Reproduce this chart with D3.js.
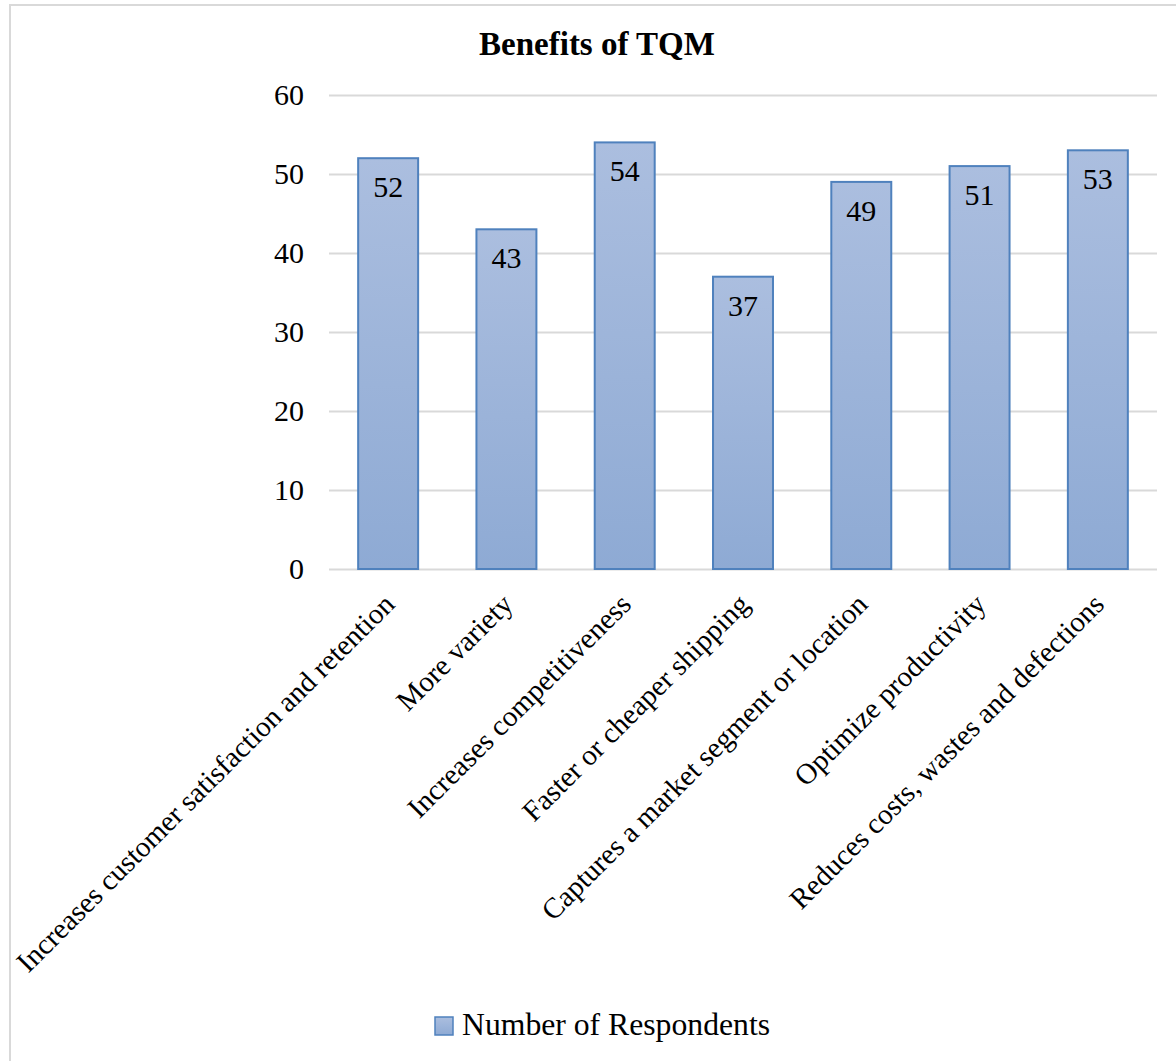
<!DOCTYPE html>
<html>
<head>
<meta charset="utf-8">
<script src="https://cdn.jsdelivr.net/npm/d3@7"></script>
<style>
  body { margin: 0; background: #fff; }
  text { font-family: "Liberation Serif", "Times New Roman", serif; fill: #000; }
</style>
</head>
<body>
<script>
// data
var categories = [
  "Increases customer satisfaction and retention",
  "More variety",
  "Increases competitiveness",
  "Faster or cheaper shipping",
  "Captures a market segment or location",
  "Optimize productivity",
  "Reduces costs, wastes and defections"
];
var respondents = [52, 43, 54, 37, 49, 51, 53];
var yTicks = [0, 10, 20, 30, 40, 50, 60];
var seriesName = "Number of Respondents";
var chartTitle = "Benefits of TQM";

var width = 1176,
    height = 1061;
var plot = { left: 329, right: 1157, top: 95, bottom: 569 };

var gridColor = "#d9d9d9",
    barStroke = "#4f81bd";

var svg = d3.select("body").append("svg")
    .attr("width", width)
    .attr("height", height);

// bar gradient
var grad = svg.append("defs").append("linearGradient")
    .attr("id", "barGrad")
    .attr("x1", 0).attr("y1", 0).attr("x2", 0).attr("y2", 1);
grad.append("stop").attr("offset", "0%").attr("stop-color", "#abbedf");
grad.append("stop").attr("offset", "100%").attr("stop-color", "#8eaad4");

// chart border (only top/left visible)
svg.append("rect")
    .attr("x", 10).attr("y", 5)
    .attr("width", width + 20).attr("height", height + 20)
    .attr("fill", "none")
    .attr("stroke", gridColor)
    .attr("stroke-width", 2);

var x = d3.scaleBand()
    .domain(categories)
    .range([plot.left, plot.right])
    .paddingInner(0.493)
    .paddingOuter(0.2465);

var y = d3.scaleLinear()
    .domain([0, 60])
    .range([plot.bottom, plot.top]);

// gridlines + y labels
var yAxis = d3.axisLeft(y)
    .tickValues(yTicks)
    .tickSize(-(plot.right - plot.left))
    .tickPadding(25);

var gy = svg.append("g")
    .attr("transform", "translate(" + plot.left + ",0)")
    .call(yAxis);
gy.select(".domain").remove();
gy.selectAll(".tick line")
    .attr("stroke", gridColor)
    .attr("stroke-width", 2);
gy.selectAll(".tick text")
    .attr("font-size", 30)
    .attr("font-family", "Liberation Serif, Times New Roman, serif")
    .attr("fill", "#000");

// bars
svg.selectAll("rect.bar")
    .data(respondents)
    .enter()
    .append("rect")
    .attr("class", "bar")
    .attr("x", function(d, i) { return x(categories[i]); })
    .attr("y", function(d) { return y(d); })
    .attr("width", x.bandwidth())
    .attr("height", function(d) { return y(0) - y(d); })
    .attr("fill", "url(#barGrad)")
    .attr("stroke", barStroke)
    .attr("stroke-width", 2);

// value labels inside top
svg.selectAll("text.val")
    .data(respondents)
    .enter()
    .append("text")
    .attr("class", "val")
    .attr("x", function(d, i) { return x(categories[i]) + x.bandwidth() / 2; })
    .attr("y", function(d) { return y(d) + 39; })
    .attr("text-anchor", "middle")
    .attr("font-size", 30)
    .text(function(d) { return d; });

// category labels rotated
svg.selectAll("text.cat")
    .data(categories)
    .enter()
    .append("text")
    .attr("class", "cat")
    .attr("transform", function(d) {
      var cx = x(d) + x.bandwidth() / 2;
      return "translate(" + (cx + 8) + "," + (plot.bottom + 37) + ") rotate(-45)";
    })
    .attr("text-anchor", "end")
    .attr("font-size", 29)
    .text(function(d) { return d; });

// title
svg.append("text")
    .attr("x", 597)
    .attr("y", 55)
    .attr("text-anchor", "middle")
    .attr("font-size", 33)
    .attr("font-weight", "bold")
    .text(chartTitle);

// legend
var legend = svg.append("g").attr("transform", "translate(435,1017)");
legend.append("rect")
    .attr("width", 18).attr("height", 18)
    .attr("fill", "url(#barGrad)")
    .attr("stroke", barStroke)
    .attr("stroke-width", 1.5);
legend.append("text")
    .attr("x", 27)
    .attr("y", 18)
    .attr("font-size", 31.7)
    .text(seriesName);
</script>
</body>
</html>
